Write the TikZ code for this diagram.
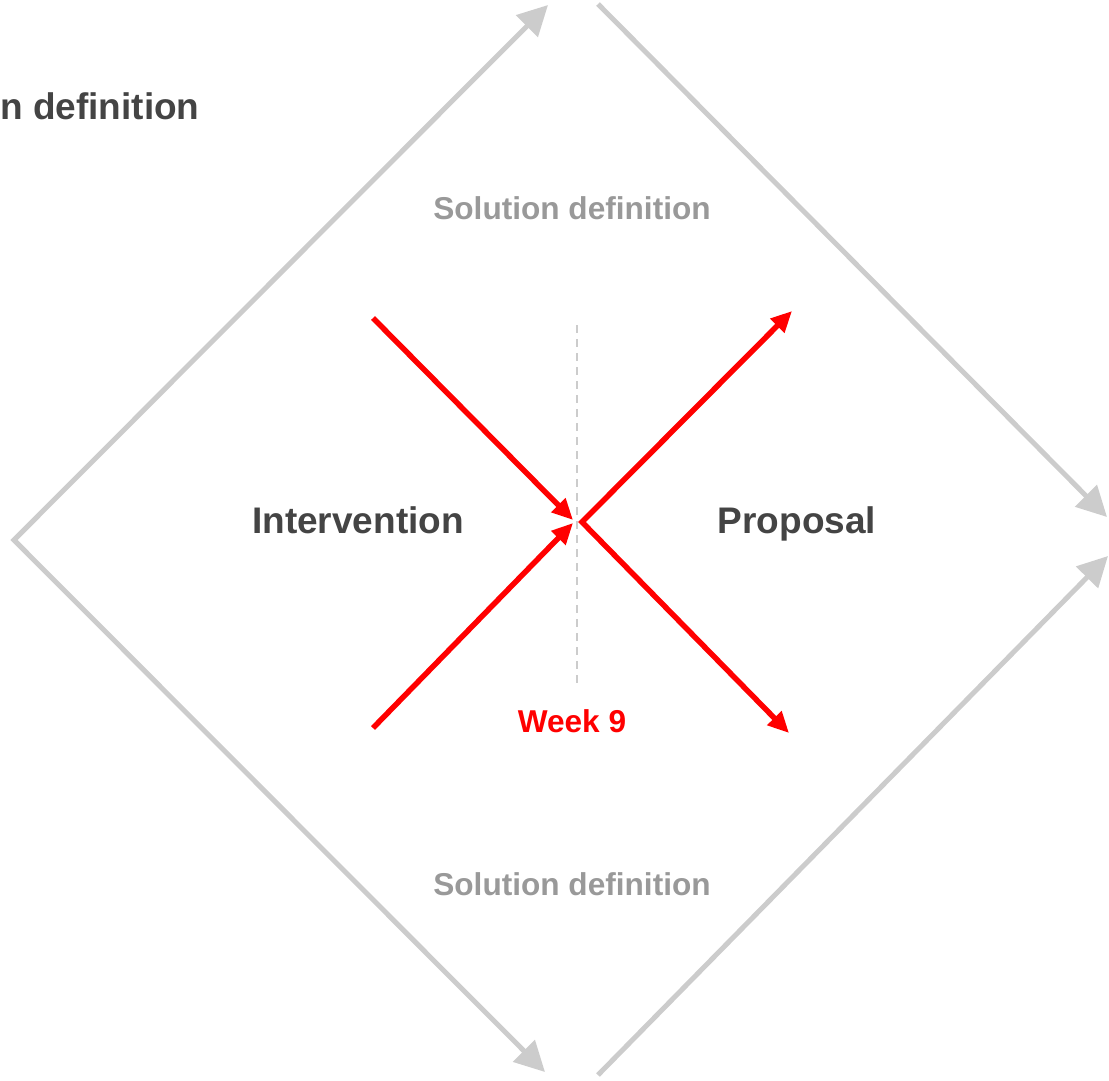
\documentclass[tikz,border=0pt]{standalone}
\usepackage{fontspec}
\setmainfont{Liberation Sans}
\usetikzlibrary{arrows.meta}
\definecolor{lightline}{HTML}{CCCCCC}
\definecolor{darktext}{HTML}{444444}
\definecolor{softtext}{HTML}{999999}
\begin{document}
\begin{tikzpicture}[x=1pt,y=-1pt,
  phase/.style={lightline,line width=5pt,line join=miter},
  phasetip/.style={-{Triangle[length=30pt,width=30pt]}},
  weekline/.style={red,line width=5.5pt},
  weektip/.style={-{Triangle[length=21pt,width=19pt]}},
  bigtext/.style={text=darktext,font=\bfseries\fontsize{37}{44}\selectfont,inner sep=0pt,anchor=base},
  smalltext/.style={font=\bfseries\fontsize{31.6}{38}\selectfont,inner sep=0pt,anchor=base}]
  \useasboundingbox (0,0) rectangle (1109,1080);
  % outer diamond
  \coordinate (lv) at (14,540);
  \coordinate (ltop) at (548,5);
  \coordinate (lbot) at (545,1072);
  \coordinate (rtopstart) at (598,4);
  \coordinate (rtop) at (1107,517);
  \coordinate (rbotstart) at (598,1075);
  \coordinate (rbot) at (1108,556);
  \draw[phase,{Triangle[length=30pt,width=30pt]}-{Triangle[length=30pt,width=30pt]}] (ltop) -- (lv) -- (lbot);
  \draw[phase,phasetip] (rtopstart) -- (rtop);
  \draw[phase,phasetip] (rbotstart) -- (rbot);
  % week marker
  \coordinate (wtop) at (577,325);
  \coordinate (wbot) at (577,685);
  \draw[lightline,line width=2pt,dash pattern=on 8pt off 6pt] (wtop) -- (wbot);
  % red cross
  \coordinate (inup) at (373,318);
  \coordinate (inlow) at (373,728);
  \coordinate (intipup) at (573,520);
  \coordinate (intiplow) at (573,523);
  \coordinate (outv) at (582,522);
  \coordinate (outup) at (792,311);
  \coordinate (outlow) at (789,733);
  \draw[weekline,weektip] (inup) -- (intipup);
  \draw[weekline,weektip] (inlow) -- (intiplow);
  \draw[weekline,{Triangle[length=21pt,width=19pt]}-{Triangle[length=21pt,width=19pt]}] (outup) -- (outv) -- (outlow);
  % labels
  \node[bigtext,anchor=base west] (prevdef) at (0,119) {n definition};
  \node[bigtext] (interv) at (358,533) {Intervention};
  \node[bigtext] (prop) at (797,533) {Proposal};
  \node[smalltext,text=softtext] (soltop) at (572,219) {Solution definition};
  \node[smalltext,text=softtext] (solbot) at (572,895) {Solution definition};
  \node[smalltext,text=red] (week) at (572,732) {Week 9};
\end{tikzpicture}
\end{document}
